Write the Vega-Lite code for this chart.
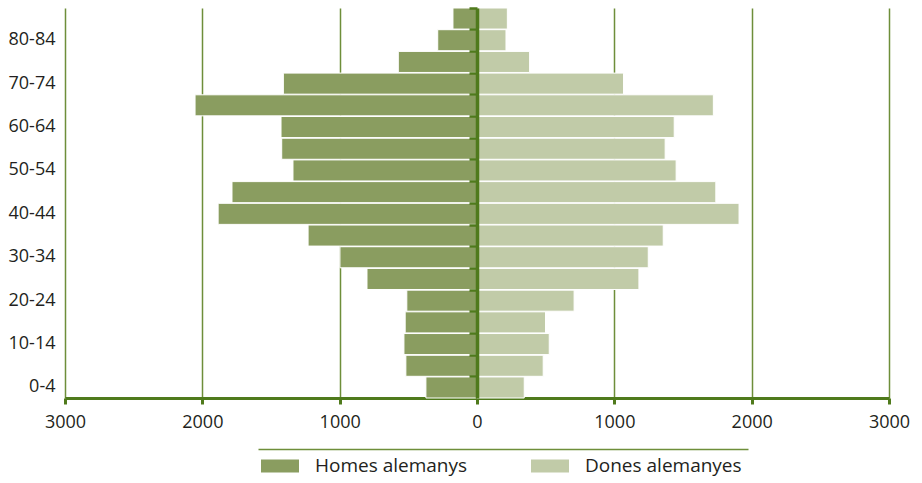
{
  "$schema": "https://vega.github.io/schema/vega-lite/v6.json",
  "padding": {"left": 8, "top": 6, "right": 5, "bottom": 0},
  "config": {
    "view": {"stroke": null},
    "font": "Open Sans",
    "axis": {"labelFont": "Open Sans", "labelFontSize": 18, "labelColor": "#231f20"}
  },
  "datasets": {
    "piramide": [
      {"edat": "0-4", "sexe": "Homes alemanys", "valor": 372},
      {"edat": "5-9", "sexe": "Homes alemanys", "valor": 518},
      {"edat": "10-14", "sexe": "Homes alemanys", "valor": 532},
      {"edat": "15-19", "sexe": "Homes alemanys", "valor": 523},
      {"edat": "20-24", "sexe": "Homes alemanys", "valor": 511},
      {"edat": "25-29", "sexe": "Homes alemanys", "valor": 801},
      {"edat": "30-34", "sexe": "Homes alemanys", "valor": 998},
      {"edat": "35-39", "sexe": "Homes alemanys", "valor": 1230},
      {"edat": "40-44", "sexe": "Homes alemanys", "valor": 1885},
      {"edat": "45-49", "sexe": "Homes alemanys", "valor": 1784},
      {"edat": "50-54", "sexe": "Homes alemanys", "valor": 1340},
      {"edat": "55-59", "sexe": "Homes alemanys", "valor": 1422},
      {"edat": "60-64", "sexe": "Homes alemanys", "valor": 1427},
      {"edat": "65-69", "sexe": "Homes alemanys", "valor": 2053},
      {"edat": "70-74", "sexe": "Homes alemanys", "valor": 1410},
      {"edat": "75-79", "sexe": "Homes alemanys", "valor": 573},
      {"edat": "80-84", "sexe": "Homes alemanys", "valor": 286},
      {"edat": "85+", "sexe": "Homes alemanys", "valor": 175},
      {"edat": "0-4", "sexe": "Dones alemanyes", "valor": 344},
      {"edat": "5-9", "sexe": "Dones alemanyes", "valor": 482},
      {"edat": "10-14", "sexe": "Dones alemanyes", "valor": 526},
      {"edat": "15-19", "sexe": "Dones alemanyes", "valor": 499},
      {"edat": "20-24", "sexe": "Dones alemanyes", "valor": 707},
      {"edat": "25-29", "sexe": "Dones alemanyes", "valor": 1179},
      {"edat": "30-34", "sexe": "Dones alemanyes", "valor": 1247},
      {"edat": "35-39", "sexe": "Dones alemanyes", "valor": 1356},
      {"edat": "40-44", "sexe": "Dones alemanyes", "valor": 1908},
      {"edat": "45-49", "sexe": "Dones alemanyes", "valor": 1739},
      {"edat": "50-54", "sexe": "Dones alemanyes", "valor": 1450},
      {"edat": "55-59", "sexe": "Dones alemanyes", "valor": 1370},
      {"edat": "60-64", "sexe": "Dones alemanyes", "valor": 1436},
      {"edat": "65-69", "sexe": "Dones alemanyes", "valor": 1721},
      {"edat": "70-74", "sexe": "Dones alemanyes", "valor": 1067},
      {"edat": "75-79", "sexe": "Dones alemanyes", "valor": 383},
      {"edat": "80-84", "sexe": "Dones alemanyes", "valor": 211},
      {"edat": "85+", "sexe": "Dones alemanyes", "valor": 221}
    ],
    "llegenda": [
      {"sexe": "Homes alemanys"},
      {"sexe": "Dones alemanyes"}
    ]
  },
  "vconcat": [
    {
      "hconcat": [
        {
          "data": {"name": "piramide"},
          "transform": [{"filter": "datum.sexe == 'Homes alemanys'"}],
          "width": 412,
          "height": 390,
          "mark": {"type": "bar", "stroke": "white", "strokeWidth": 1},
          "encoding": {
            "x": {
              "field": "valor", "type": "quantitative",
              "scale": {"domain": [0, 3000], "reverse": true, "nice": false},
              "axis": {
                "values": [1000, 2000, 3000], "title": null, "labelFlush": false, "format": "d",
                "grid": true, "gridColor": "#6E8E3A", "gridWidth": 1.5,
                "domainColor": "#4F7A1C", "domainWidth": 3,
                "tickColor": "#4F7A1C", "tickWidth": 3, "tickSize": 6,
                "labelPadding": 9
              }
            },
            "y": {
              "field": "edat", "type": "ordinal",
              "sort": ["85+", "80-84", "75-79", "70-74", "65-69", "60-64", "55-59", "50-54", "45-49", "40-44", "35-39", "30-34", "25-29", "20-24", "15-19", "10-14", "5-9", "0-4"],
              "scale": {"paddingInner": 0.03, "paddingOuter": 0},
              "axis": {
                "values": ["80-84", "70-74", "60-64", "50-54", "40-44", "30-34", "20-24", "10-14", "0-4"],
                "title": null, "ticks": false, "domain": false, "labelPadding": 10
              }
            },
            "color": {
              "field": "sexe", "type": "nominal",
              "scale": {"domain": ["Homes alemanys", "Dones alemanyes"], "range": ["#8A9D60", "#C1CBA8"]},
              "legend": null
            }
          }
        },
        {
          "data": {"name": "piramide"},
          "transform": [{"filter": "datum.sexe == 'Dones alemanyes'"}],
          "width": 412,
          "height": 390,
          "mark": {"type": "bar", "stroke": "white", "strokeWidth": 1},
          "encoding": {
            "x": {
              "field": "valor", "type": "quantitative",
              "scale": {"domain": [0, 3000], "nice": false},
              "axis": {
                "values": [0, 1000, 2000, 3000], "title": null, "labelFlush": false, "format": "d",
                "grid": true, "gridColor": "#6E8E3A", "gridWidth": 1.5,
                "domainColor": "#4F7A1C", "domainWidth": 3,
                "tickColor": "#4F7A1C", "tickWidth": 3, "tickSize": 6,
                "labelPadding": 9
              }
            },
            "y": {
              "field": "edat", "type": "ordinal",
              "sort": ["85+", "80-84", "75-79", "70-74", "65-69", "60-64", "55-59", "50-54", "45-49", "40-44", "35-39", "30-34", "25-29", "20-24", "15-19", "10-14", "5-9", "0-4"],
              "scale": {"paddingInner": 0.03, "paddingOuter": 0},
              "axis": {
                "orient": "left", "title": null, "labels": false,
                "domain": true, "domainColor": "#4F7A1C", "domainWidth": 3.5,
                "ticks": true, "tickColor": "#4F7A1C", "tickWidth": 2.5, "tickSize": 8,
                "bandPosition": 0, "zindex": 1
              }
            },
            "color": {
              "field": "sexe", "type": "nominal",
              "scale": {"domain": ["Homes alemanys", "Dones alemanyes"], "range": ["#8A9D60", "#C1CBA8"]},
              "legend": null
            }
          }
        }
      ],
      "spacing": 0,
      "bounds": "flush",
      "resolve": {"scale": {"x": "independent"}}
    },
    {
      "data": {"name": "llegenda"},
      "width": 740,
      "height": 34,
      "encoding": {
        "x": {
          "field": "sexe", "type": "nominal", "sort": null, "bandPosition": 0,
          "scale": {"type": "band", "range": [193, 683], "paddingInner": 0.2074, "paddingOuter": 0.0111},
          "axis": {
            "orient": "top", "title": null, "labels": false, "ticks": false,
            "domain": true, "domainColor": "#6E8E3A", "domainWidth": 1.5, "grid": false
          }
        }
      },
      "layer": [
        {
          "mark": {"type": "point", "shape": "M0,-0.342H2V0.342H0Z", "filled": true, "size": 1444, "opacity": 1, "strokeWidth": 0},
          "encoding": {
            "color": {
              "field": "sexe", "type": "nominal",
              "scale": {"domain": ["Homes alemanys", "Dones alemanyes"], "range": ["#8A9D60", "#C1CBA8"]},
              "legend": null
            }
          }
        },
        {
          "mark": {"type": "text", "align": "left", "baseline": "middle", "dx": 54, "fontSize": 19, "font": "Open Sans", "color": "#231f20"},
          "encoding": {"text": {"field": "sexe"}}
        }
      ]
    }
  ],
  "spacing": 18
}
